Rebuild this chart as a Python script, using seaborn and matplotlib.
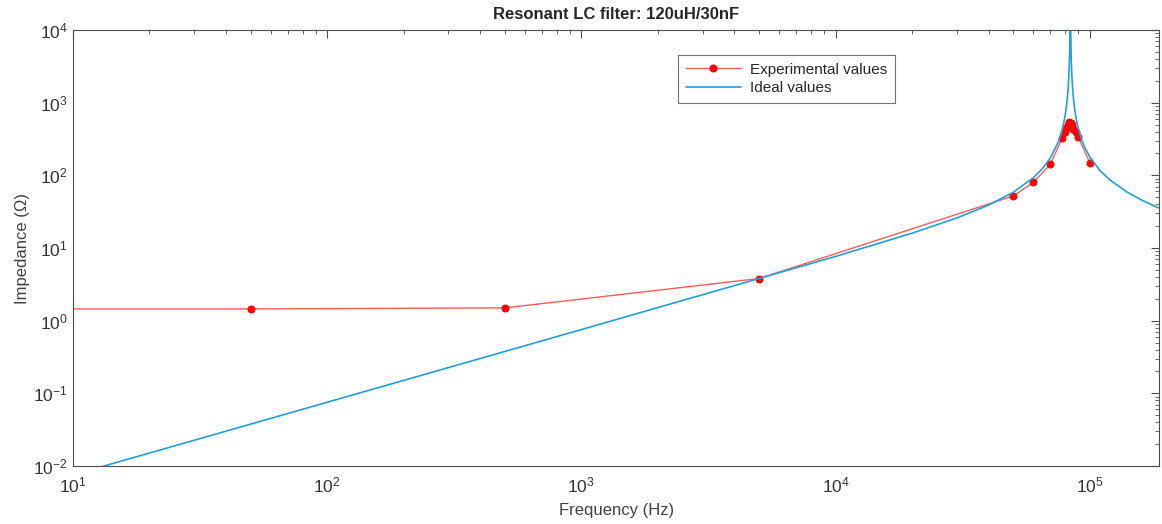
import numpy as np
import pandas as pd
import seaborn as sns
import matplotlib.pyplot as plt

# measured points (Hz, ohm)
exp_freq = [1, 50, 500, 5000, 50000, 60000, 70000, 78000, 80000, 81000, 82000, 83000,
            84000, 85000, 86000, 88000, 90000, 100000]
exp_z = [1.45, 1.45, 1.5, 3.8, 52, 80, 142, 330, 400, 450, 500, 540,
         530, 490, 440, 390, 340, 150]

# ideal curve
ideal_freq = [10, 100, 1000, 10000, 20000, 30000, 40000, 50000, 60000, 65000, 70000,
              75000, 76000, 78000, 79000, 80000, 81000, 82000, 82500, 83000, 83200,
              83400, 83700, 84100, 84500, 85000, 86000, 87500, 88500, 90000, 92500,
              95000, 100000, 110000, 120000, 140000, 160000, 180000, 200000]
ideal_z = [0.00754, 0.0754, 0.754, 7.65, 16.0, 25.9, 39.0, 58.5, 92.7, 122.7, 173.8,
           282.1, 320.0, 434.7, 527.3, 667.3, 904.7, 1395, 1908, 2994, 3885,
           5501, 14710, 12071, 4294, 2384, 1267, 748, 589.5, 448.7, 322.7,
           253.4, 179.0, 115.2, 86.45, 59.11, 45.72, 37.65, 32.19]

exp = pd.DataFrame({"f": exp_freq, "z": exp_z})
ideal = pd.DataFrame({"f": ideal_freq, "z": ideal_z})

sns.set_style("white")
plt.rcParams['font.family'] = ['Liberation Sans', 'DejaVu Sans']
plt.rcParams['axes.unicode_minus'] = False

fig = plt.figure(figsize=(11.62, 5.24), dpi=100)
ax = fig.add_axes([0.0628, 0.1107, 0.935, 0.832])

sns.lineplot(data=exp, x="f", y="z", ax=ax, color="#ff5a5a", linewidth=1.0,
             marker="o", markersize=5, markerfacecolor="red", markeredgecolor="red",
             label="Experimental values")
sns.lineplot(data=ideal, x="f", y="z", ax=ax, color="#1fa0dc", linewidth=1.2,
             label="Ideal values")

ax.set(xscale="log", yscale="log")
ax.set_xlim(10, 1.88e5)
ax.set_ylim(1e-2, 1e4)
ax.set_title("Resonant LC filter: 120uH/30nF", fontsize=12, fontweight="bold", pad=8)
ax.set_xlabel("Frequency (Hz)", fontsize=12, color="0.25", labelpad=5)
ax.set_ylabel("Impedance (\u03a9)", fontsize=12, color="0.25", labelpad=2)

for s in ax.spines.values():
    s.set_color("0.3")
    s.set_linewidth(0.8)
ax.tick_params(which="both", direction="in", top=True, right=True, colors="0.3",
               labelcolor="0.2", labelsize=12.5)
ax.tick_params(which="major", length=6)
ax.tick_params(which="minor", length=3)
ax.tick_params(axis="x", which="major", pad=7)
ax.tick_params(axis="y", which="major", pad=4)

leg = ax.legend(loc="upper left", bbox_to_anchor=(0.55, 0.96), fontsize=11,
                frameon=True, fancybox=False, handlelength=3.6, borderpad=0.5,
                labelspacing=0.3, handletextpad=0.6)
leg.get_frame().set_edgecolor("0.3")
leg.get_frame().set_linewidth(0.8)

fig.savefig("out.png", dpi=100)
